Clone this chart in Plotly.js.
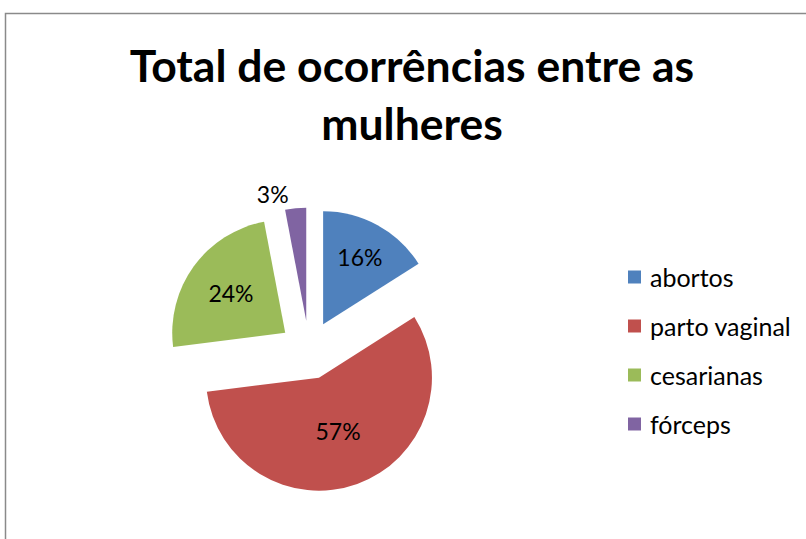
<!DOCTYPE html>
<html>
<head>
<meta charset="utf-8">
<script src="https://cdn.plot.ly/plotly-3.0.1.min.js"></script>
<style>html,body{margin:0;padding:0;background:#fff;}#chart{width:806px;height:539px;}</style>
</head>
<body>
<div id="chart"></div>
<script>
var categories = ['abortos', 'parto vaginal', 'cesarianas', 'fórceps'];
var values = [16, 57, 24, 3];
var colors = ['#4F81BD', '#C0504D', '#9BBB59', '#8064A2'];
var titleText = 'Total de ocorrências entre as<br>mulheres';

var W = 806, H = 539;
var FONT = 'Lato, Carlito, sans-serif';
// pie domain (pixels)
var cx = 309, cy = 350, r = 113, pull = 0.26;
var half = r * (1 + pull);
var dom = {
  x: [(cx - half) / W, (cx + half) / W],
  y: [(H - (cy + half)) / H, (H - (cy - half)) / H]
};

var trace = {
  type: 'pie',
  labels: categories,
  values: values,
  sort: false,
  direction: 'clockwise',
  rotation: 0,
  pull: pull,
  domain: dom,
  marker: {colors: colors, line: {width: 0}},
  textinfo: 'percent',
  textposition: ['inside', 'inside', 'inside', 'outside'],
  insidetextorientation: 'horizontal',
  textfont: {family: FONT, size: 23, color: '#000'},
  outsidetextfont: {family: FONT, size: 23, color: '#000'},
  showlegend: false,
  hoverinfo: 'label+percent'
};

// legend built from the categories / colors arrays
var shapes = [{
  type: 'rect', xref: 'paper', yref: 'paper',
  x0: 5.5 / W, x1: 1.05, y0: -0.05, y1: (H - 13.5) / H,
  line: {color: '#8a8a8a', width: 1.5}, fillcolor: 'rgba(0,0,0,0)'
}];
var annotations = [];
var legX = 628, legY0 = 277, legGap = 49, sq = 13;
categories.forEach(function (c, i) {
  var yc = legY0 + i * legGap;
  shapes.push({
    type: 'rect', xref: 'paper', yref: 'paper',
    x0: legX / W, x1: (legX + sq) / W,
    y0: (H - (yc + sq / 2)) / H, y1: (H - (yc - sq / 2)) / H,
    line: {width: 0}, fillcolor: colors[i]
  });
  annotations.push({
    xref: 'paper', yref: 'paper', x: (legX + sq + 7) / W, y: (H - yc) / H,
    xanchor: 'left', yanchor: 'middle', showarrow: false, text: c,
    font: {family: FONT, size: 25, color: '#000'}
  });
});

var layout = {
  width: W, height: H,
  margin: {l: 0, r: 0, t: 0, b: 0},
  paper_bgcolor: '#fff',
  title: {
    text: titleText,
    font: {family: FONT, size: 44.5, color: '#000', weight: 'bold'},
    x: 412 / W, xanchor: 'center',
    y: 1 - 82 / H, yanchor: 'top', yref: 'container'
  },
  shapes: shapes,
  annotations: annotations,
  showlegend: false
};

Plotly.newPlot('chart', [trace], layout, {displayModeBar: false, staticPlot: true});
</script>
</body>
</html>
